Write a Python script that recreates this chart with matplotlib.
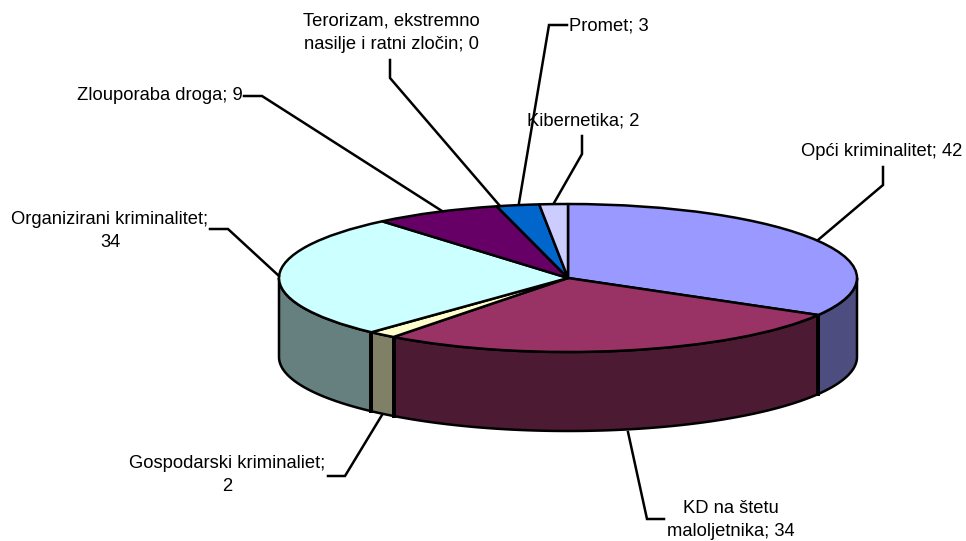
import numpy as np
import matplotlib
matplotlib.use("Agg")
import matplotlib.pyplot as plt

plt.rcParams['font.family'] = ['Liberation Sans', 'DejaVu Sans']

# slices, clockwise from 12 o'clock
categories = ["Opći kriminalitet", "KD na štetu maloljetnika", "Gospodarski kriminaliet",
              "Organizirani kriminalitet", "Zlouporaba droga",
              "Terorizam, ekstremno nasilje i ratni zločin", "Promet", "Kibernetika"]
values = [42, 34, 2, 34, 9, 0, 3, 2]
top_colors = ["#9999FF", "#993366", "#FFFFCC", "#CCFFFF", "#660066", "#FF8080", "#0066CC", "#CCCCFF"]
side_colors = ["#4D4D80", "#4D1A33", "#808066", "#668080", "#330033", "#804040", "#003366", "#666680"]

W, H = 966, 541
cx, cy = 568, 278      # pie centre in pixels
rx, ry = 289, 74       # ellipse radii in pixels
depth = 79 / ry        # wall height in y units
lw = 1.8

fig = plt.figure(figsize=(W / 100, H / 100), dpi=100)
ax = fig.add_axes([0, 0, 1, 1])

# top face: normal pie, squashed by the axes limits
ax.pie(values, colors=top_colors, startangle=90, counterclock=False, radius=1,
       wedgeprops=dict(edgecolor="black", linewidth=lw, joinstyle="round", zorder=5))
ax.set_aspect("auto")
ax.set_xlim(-cx / rx, (W - cx) / rx)
ax.set_ylim(-(H - cy) / ry, cy / ry)

# walls, only the part of each slice that faces the viewer
edges = np.cumsum([0] + values) / sum(values) * 360
walls = []
for i in range(len(values)):
    a0, a1 = max(edges[i], 90), min(edges[i + 1], 270)
    if a1 <= a0:
        continue
    walls.append((abs((a0 + a1) / 2 - 180), a0, a1, side_colors[i]))

# back to front so the nearest wall goes on top
for _, a0, a1, col in sorted(walls, key=lambda w: -w[0]):
    t = np.radians(np.linspace(a0, a1, 80))
    x, y = np.sin(t), np.cos(t)
    ax.fill(np.r_[x, x[::-1]], np.r_[y, y[::-1] - depth], facecolor=col,
            edgecolor="black", linewidth=lw, joinstyle="round", zorder=3)
    # the vertical seams between slices look heavier in the original
    for a in (a0, a1):
        if 90 < a < 270:
            s, c = np.sin(np.radians(a)), np.cos(np.radians(a))
            ax.plot([s, s], [c, c - depth], color="black", linewidth=lw + 1, zorder=4)

# overlay in pixel coordinates for the labels and leader lines
ov = fig.add_axes([0, 0, 1, 1], facecolor="none")
ov.set_xlim(0, W)
ov.set_ylim(H, 0)
ov.axis("off")

leaders = [
    ([883, 883, 818], [167, 185, 240]),
    ([628, 647, 664], [432, 519, 519]),
    ([382, 345, 328], [415, 476, 476]),
    ([210, 228, 279], [229, 229, 276]),
    ([244, 262, 442], [96, 96, 211]),
    ([390, 390, 500], [60, 78, 206]),
    ([567, 549, 519], [25, 25, 203]),
    ([582, 582, 554], [136, 154, 203]),
]
for xs, ys in leaders:
    ov.plot(xs, ys, color="black", linewidth=lw, solid_joinstyle="miter", zorder=6)

fs = 13.2
labels = [
    (882, 151, "Opći kriminalitet; 42"),
    (731, 520, "KD na štetu\nmaloljetnika; 34"),
    (227, 475, "Gospodarski kriminaliet;\n2"),
    (110, 231, "Organizirani kriminalitet;\n34"),
    (160, 96, "Zlouporaba droga; 9"),
    (391, 33, "Terorizam, ekstremno\nnasilje i ratni zločin; 0"),
    (609, 26, "Promet; 3"),
    (583, 121, "Kibernetika; 2"),
]
for x, y, s in labels:
    ov.text(x, y, s, fontsize=fs, ha="center", va="center", color="black",
            linespacing=1.5, zorder=7)

fig.savefig("out.png", dpi=100, facecolor="white")
